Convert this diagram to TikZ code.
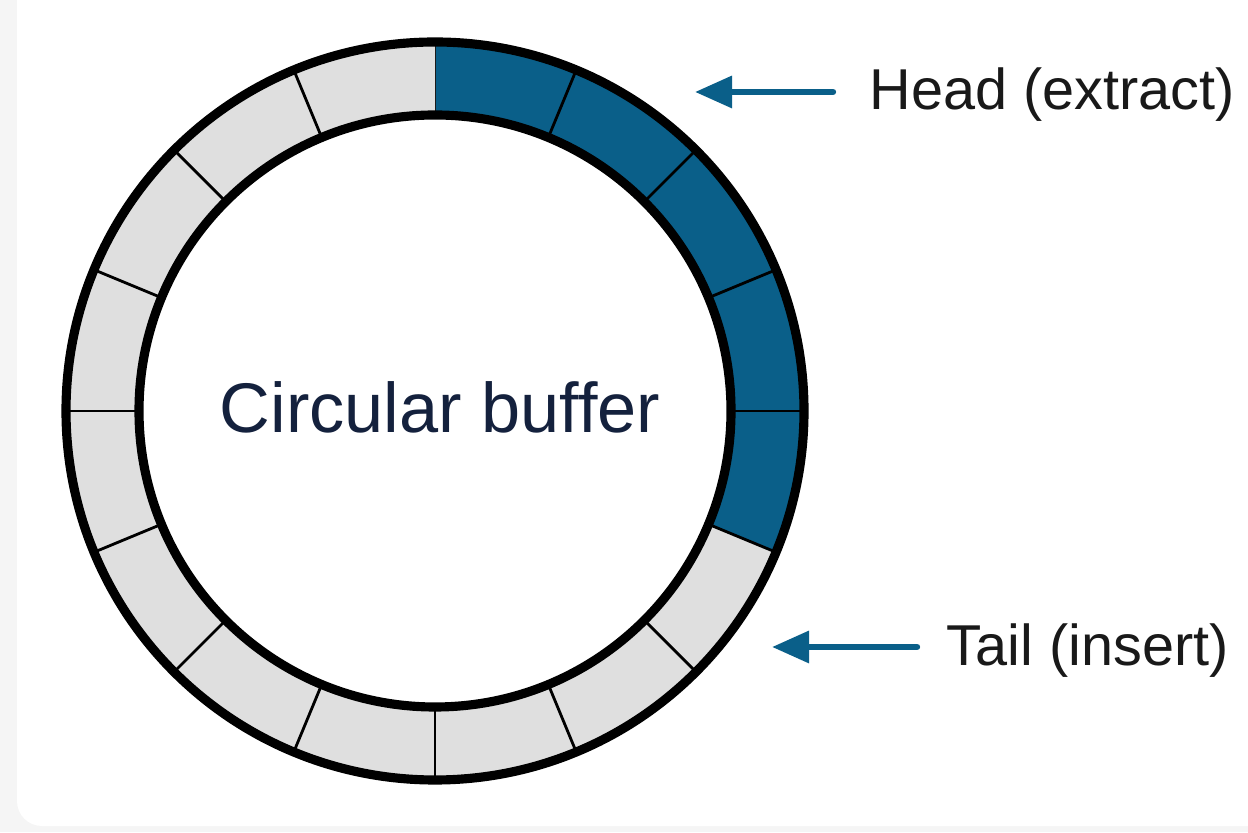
\documentclass[tikz,border=0pt]{standalone}
\usepackage{fontspec}
\setmainfont{Liberation Sans}
\usetikzlibrary{arrows.meta}
\definecolor{ringblue}{HTML}{0A5F89}
\definecolor{slotgray}{HTML}{DFDFDF}
\definecolor{navy}{HTML}{14213D}
\definecolor{pagegray}{HTML}{F5F5F5}
\tikzset{
	lbl/.style={inner sep=0pt, anchor=base west, font=\fontsize{16.4}{19}\selectfont, text=black!90},
	ptr/.style={ringblue, line width=1.8pt, line cap=round, -{Triangle[length=3.7mm,width=3.1mm]}},
	rim/.style={line width=2.6pt},
	divider/.style={line width=0.8pt}
}
\begin{document}
\begin{tikzpicture}
	\useasboundingbox (0,0) rectangle (12.48,8.32);
	% page and panel
	\fill[pagegray] (0,0) rectangle (12.48,8.32);
	\fill[white, rounded corners=0.25cm] (0.17,0.06) rectangle (12.9,8.8);
	\def\Ro{3.69}
	\def\Ri{2.96}
	\begin{scope}[shift={(4.35,4.21)}]
		% slots, the first five from the top are filled
		\foreach \i in {0,...,15}{
			\pgfmathsetmacro{\a}{90-22.5*\i}
			\pgfmathsetmacro{\b}{\a-22.5}
			\ifnum\i<5 \def\slotcol{ringblue}\else \def\slotcol{slotgray}\fi
			\fill[\slotcol] (\a:\Ro) arc (\a:\b:\Ro) -- (\b:\Ri) arc (\b:\a:\Ri) -- cycle;
			\draw[divider] (\a:\Ri) -- (\a:\Ro);
		}
		\draw[rim] (0,0) circle (\Ro);
		\draw[rim] (0,0) circle (\Ri);
	\end{scope}
	\node[font=\fontsize{20}{24}\selectfont, text=navy, anchor=base, inner sep=0pt] (buf) at (4.40,3.99) {Circular buffer};
	% pointers
	\node[lbl] (head) at (8.69,7.22) {Head (extract)};
	\node[lbl] (tail) at (9.46,1.66) {Tail (insert)};
	\coordinate (headtip) at (6.95,7.40);
	\coordinate (tailtip) at (7.72,1.85);
	\draw[ptr] ([xshift=-3.6mm]headtip -| head.west) -- (headtip);
	\draw[ptr] ([xshift=-2.9mm]tailtip -| tail.west) -- (tailtip);
\end{tikzpicture}
\end{document}
